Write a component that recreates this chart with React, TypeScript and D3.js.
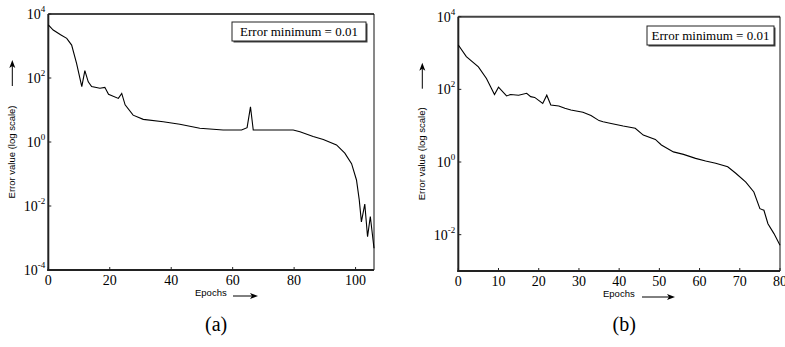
import React from 'react';
import * as d3 from 'd3';

// panel (a): epochs vs error
const epochsA = [0, 1.6, 4, 6, 7.6, 9.2, 10.9, 11.9, 13, 14.1, 16.8, 18.4, 19.6, 22.8, 23.9, 25, 27.6, 30.9, 37.4, 42.8, 49.3, 56.9, 62.9, 64.7, 65.8, 66.7, 73.2, 79.7, 81.9, 86.2, 89.5, 93.8, 96.5, 98.7, 100.3, 101.2, 101.9, 103, 103.9, 104.8, 106];
const errorA = [4570, 3160, 2240, 1740, 1070, 288, 54, 170, 76, 54, 48, 51, 31, 23, 33, 14.5, 6.9, 5.1, 4.3, 3.6, 2.7, 2.37, 2.37, 2.8, 12.6, 2.37, 2.37, 2.37, 2.1, 1.48, 1.2, 0.81, 0.45, 0.21, 0.065, 0.0155, 0.0032, 0.0115, 0.0011, 0.0047, 0.00048];

// panel (b)
const epochsB = [0, 2, 5, 7, 9, 10, 12, 13, 15, 17, 18, 19, 21, 22, 23, 25, 26.5, 28, 31, 33, 35, 36, 38, 41, 44, 46, 49, 50.5, 53.5, 56, 59, 61.5, 64, 67, 69, 71.5, 73.5, 75, 76, 77, 78.5, 80];
const errorB = [1660, 794, 417, 200, 72, 115, 66, 72, 69, 78, 63, 60, 41, 69, 37, 35, 30, 27, 23.4, 19, 13.8, 12.9, 11.5, 9.8, 8.5, 5.5, 4.2, 2.95, 1.9, 1.62, 1.26, 1.07, 0.93, 0.74, 0.49, 0.28, 0.15, 0.052, 0.047, 0.02, 0.0107, 0.0051];

const xTicksA = [0, 20, 40, 60, 80, 100];
const xTicksB = [0, 10, 20, 30, 40, 50, 60, 70, 80];
const yExpA = [4, 2, 0, -2, -4];
const yExpB = [4, 2, 0, -2];

const legendText = 'Error minimum = 0.01';
const yTitle = 'Error value (log scale)';
const xTitle = 'Epochs';

const serif = '"Liberation Serif", "Times New Roman", serif';
const sans = '"Liberation Sans", Arial, sans-serif';

function Panel(props: any) {
  const { x0, x1, y0, y1, xMax, yMin, xs, ys, xTicks, yExps, legend, label, xTitleX, arrowX, arrowLen } = props;
  const x = d3.scaleLinear().domain([0, xMax]).range([x0, x1]);
  const y = d3.scaleLog().domain([yMin, 1e4]).range([y1, y0]);
  const pts: [number, number][] = xs.map((e: number, i: number) => [e, ys[i]]);
  const line = d3.line<[number, number]>().x(d => x(d[0])).y(d => y(d[1]));
  const yMid = (y0 + y1) / 2 + 2;
  return (
    <g>
      {/* frame */}
      <line x1={x0} x2={x1} y1={y0} y2={y0} stroke="#444" strokeWidth={2} />
      <line x1={x1} x2={x1} y1={y0} y2={y1} stroke="#111" strokeWidth={1} />
      <line x1={x0} x2={x0} y1={y0} y2={y1 + 1} stroke="#222" strokeWidth={2} />
      <line x1={x0 - 1} x2={x1} y1={y1} y2={y1} stroke="#222" strokeWidth={2} />
      {xTicks.map((t: number) => (
        <g key={'x' + t}>
          <line x1={x(t)} x2={x(t)} y1={y1} y2={y1 - 3} stroke="#222" />
          <text x={x(t)} y={y1 + 15} textAnchor="middle" fontFamily={serif} fontSize={14}>{t}</text>
        </g>
      ))}
      {yExps.map((p: number) => (
        <g key={'y' + p}>
          <line x1={x0} x2={x0 + 3} y1={y(Math.pow(10, p))} y2={y(Math.pow(10, p))} stroke="#222" />
          <text x={x0 - 3} y={y(Math.pow(10, p)) + 5} textAnchor="end" fontFamily={serif} fontSize={14}>
            10<tspan dy={-7} fontSize={9}>{p}</tspan>
          </text>
        </g>
      ))}
      <path d={line(pts) || ''} fill="none" stroke="#000" strokeWidth={1.1} />
      {/* legend box */}
      <rect x={legend[0] + 1.5} y={legend[1] + 1.5} width={legend[2]} height={legend[3]} fill="#444" />
      <rect x={legend[0]} y={legend[1]} width={legend[2]} height={legend[3]} fill="#fff" stroke="#222" strokeWidth={1} />
      <text x={legend[0] + legend[2] / 2} y={legend[1] + 14} textAnchor="middle" fontFamily={serif} fontSize={13}>{legendText}</text>
      {/* y title with arrow */}
      <text transform={`translate(${x0 - 33},${yMid + 8}) rotate(-90)`} textAnchor="middle" fontFamily={sans} fontSize={9.5}>{yTitle}</text>
      <line x1={x0 - 36} x2={x0 - 36} y1={y0 + 72} y2={y0 + 52} stroke="#000" strokeWidth={1} />
      <path d={`M${x0 - 36},${y0 + 46} l-3,8 l3,-2 l3,2 z`} fill="#000" />
      {/* x title with arrow */}
      <text x={xTitleX} y={y1 + 26} fontFamily={sans} fontSize={9.5}>{xTitle}</text>
      <line x1={arrowX} x2={arrowX + arrowLen - 6} y1={y1 + 26} y2={y1 + 26} stroke="#000" />
      <path d={`M${arrowX + arrowLen},${y1 + 26} l-8,-3 l2,3 l-2,3 z`} fill="#000" />
      <text x={(x0 + x1) / 2 + 5} y={331} textAnchor="middle" fontFamily={serif} fontSize={20}>{label}</text>
    </g>
  );
}

export default function App() {
  return (
    <svg width={785} height={347} style={{ position: 'absolute', left: 0, top: 0, background: '#fff' }}>
      <Panel x0={48.3} x1={374} y0={14} y1={270} xMax={106} yMin={1e-4} xs={epochsA} ys={errorA}
        xTicks={xTicksA} yExps={yExpA} legend={[232, 22, 134, 19]} label="(a)"
        xTitleX={195} arrowX={233} arrowLen={25} />
      <Panel x0={458.3} x1={780} y0={16.7} y1={271} xMax={80} yMin={1e-3} xs={epochsB} ys={errorB}
        xTicks={xTicksB} yExps={yExpB} legend={[647, 26, 127, 19]} label="(b)"
        xTitleX={603} arrowX={642} arrowLen={33} />
    </svg>
  );
}
